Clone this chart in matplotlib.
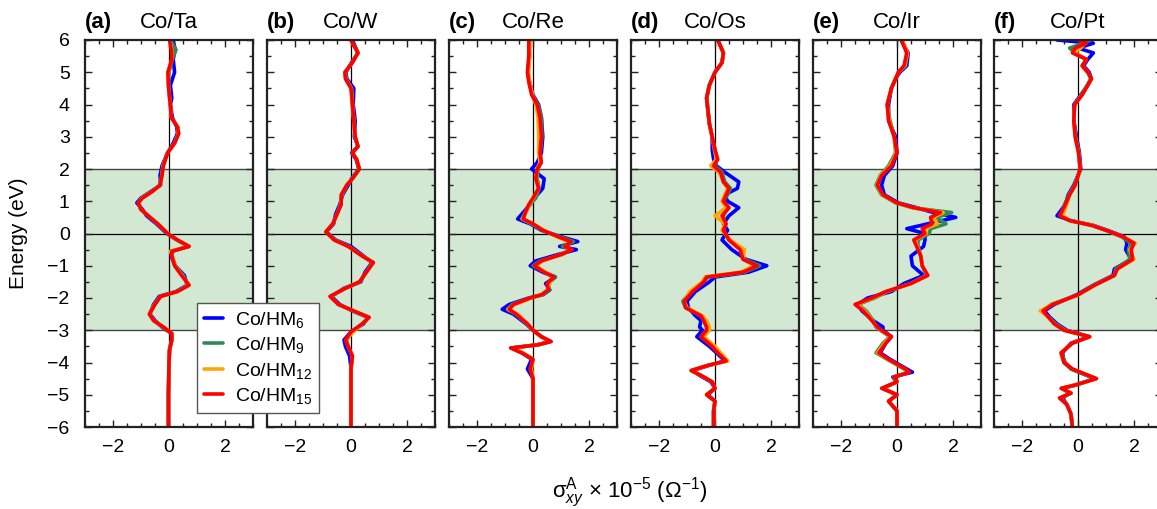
#!/usr/bin/env python3
import matplotlib
matplotlib.use("Agg")
import matplotlib.pyplot as plt
from matplotlib.ticker import MultipleLocator, FixedLocator

# --- Fontes ---
plt.rcParams["font.family"] = ["Liberation Sans", "DejaVu Sans"]
plt.rcParams["mathtext.fontset"] = "custom"
plt.rcParams["mathtext.rm"] = "Liberation Sans"
plt.rcParams["mathtext.it"] = "Liberation Sans:italic"
plt.rcParams["mathtext.bf"] = "Liberation Sans:bold"

ARQUIVO_SAIDA = "out.png"

# --- Dados: energia (eV) e condutividade (x 1e5 Ohm^-1) por sistema ---
E_A = [6.0, 5.7, 5.4, 5.0, 4.6, 4.2, 4.0, 3.6, 3.3, 3.1, 2.8, 2.5, 2.1, 1.8, 1.5,
       1.3, 1.1, 0.95, 0.75, 0.55, 0.3, 0.0, -0.2, -0.4, -0.55, -0.7, -1.0, -1.3,
       -1.6, -1.8, -1.95, -2.2, -2.5, -2.7, -2.9, -3.1, -3.3, -3.6, -4.0, -5.0, -6.0]
TA_6 = [0.15, 0.22, 0.15, 0.20, 0.05, 0.10, 0.05, 0.12, 0.28, 0.30, 0.15, -0.05, -0.25,
        -0.32, -0.30, -0.65, -1.00, -1.15, -0.95, -0.80, -0.45, -0.08, 0.28, 0.70, 0.12,
        0.08, 0.22, 0.55, 0.65, 0.25, -0.35, -0.55, -0.68, -0.50, -0.25, 0.08, 0.10,
        0.02, 0.00, -0.02, -0.02]
TA_9 = [0.05, 0.25, 0.12, 0.00, -0.02, 0.03, 0.05, 0.08, 0.32, 0.33, 0.20, -0.05, -0.22,
        -0.26, -0.32, -0.62, -0.97, -1.08, -1.02, -0.73, -0.40, -0.05, 0.30, 0.70, 0.08,
        0.12, 0.22, 0.50, 0.68, 0.28, -0.30, -0.52, -0.70, -0.55, -0.22, 0.10, 0.10,
        0.02, 0.00, -0.02, -0.02]
TA_12 = [0.03, 0.10, 0.10, -0.03, -0.02, 0.02, 0.05, 0.08, 0.31, 0.34, 0.20, -0.05, -0.21,
         -0.25, -0.31, -0.60, -0.96, -1.09, -1.00, -0.74, -0.40, -0.05, 0.29, 0.70, 0.05,
         0.12, 0.21, 0.47, 0.70, 0.30, -0.30, -0.51, -0.70, -0.55, -0.20, 0.10, 0.10,
         0.02, 0.00, -0.02, -0.02]
TA_15 = [0.02, 0.08, 0.10, -0.04, -0.02, 0.02, 0.05, 0.08, 0.30, 0.35, 0.20, -0.05, -0.20,
         -0.25, -0.32, -0.60, -0.95, -1.10, -1.00, -0.75, -0.40, -0.05, 0.30, 0.72, 0.10,
         0.10, 0.20, 0.45, 0.72, 0.30, -0.30, -0.50, -0.70, -0.55, -0.20, 0.10, 0.10,
         0.02, 0.00, -0.02, -0.02]

E_B = [6.0, 5.6, 5.3, 5.0, 4.8, 4.5, 4.0, 3.5, 3.0, 2.7, 2.5, 2.3, 2.0, 1.7, 1.5, 1.2,
       0.9, 0.6, 0.3, 0.05, -0.2, -0.4, -0.7, -0.9, -1.2, -1.5, -1.7, -1.95, -2.2, -2.4,
       -2.6, -2.8, -3.05, -3.3, -3.5, -3.8, -4.2, -5.0, -6.0]
W_6 = [0.05, 0.25, 0.02, -0.18, -0.15, 0.10, 0.08, 0.15, 0.12, 0.25, 0.02, 0.18, 0.28,
       0.02, -0.10, -0.30, -0.40, -0.55, -0.62, -0.88, -0.55, 0.00, 0.45, 0.75, 0.50,
       0.35, -0.25, -0.70, -0.40, 0.05, 0.60, 0.45, 0.00, -0.25, -0.20, -0.05, 0.00,
       0.00, 0.00]
W_9 = [0.00, 0.24, 0.05, -0.20, -0.18, 0.02, 0.06, 0.10, 0.15, 0.24, 0.05, 0.20, 0.30,
       0.05, -0.15, -0.33, -0.37, -0.50, -0.65, -0.90, -0.58, -0.08, 0.42, 0.78, 0.55,
       0.32, -0.20, -0.73, -0.45, 0.08, 0.62, 0.42, 0.05, -0.15, -0.10, 0.05, 0.00,
       0.00, 0.00]
W_12 = [0.00, 0.25, 0.05, -0.21, -0.19, 0.01, 0.05, 0.10, 0.15, 0.25, 0.05, 0.20, 0.30,
        0.05, -0.15, -0.34, -0.36, -0.50, -0.65, -0.90, -0.60, -0.10, 0.40, 0.79, 0.55,
        0.30, -0.20, -0.74, -0.45, 0.10, 0.64, 0.40, 0.08, -0.18, -0.10, 0.05, 0.00,
        0.00, 0.00]
W_15 = [0.00, 0.25, 0.05, -0.22, -0.20, 0.00, 0.05, 0.10, 0.15, 0.25, 0.05, 0.20, 0.30,
        0.05, -0.15, -0.35, -0.35, -0.50, -0.65, -0.90, -0.60, -0.10, 0.40, 0.80, 0.55,
        0.30, -0.20, -0.75, -0.45, 0.10, 0.65, 0.40, 0.00, -0.20, -0.10, 0.05, 0.00,
        0.00, 0.00]

E_C = [6.0, 5.5, 5.0, 4.7, 4.3, 4.0, 3.6, 3.0, 2.5, 2.2, 2.0, 1.7, 1.4, 1.1, 0.9, 0.7,
       0.45, 0.3, 0.1, -0.1, -0.25, -0.4, -0.5, -0.65, -0.85, -1.0, -1.2, -1.35, -1.55,
       -1.75, -1.9, -2.0, -2.2, -2.35, -2.5, -2.8, -3.0, -3.2, -3.35, -3.45, -3.55,
       -3.7, -3.9, -4.2, -4.5, -5.0, -6.0]
RE_6 = [-0.15, -0.12, -0.18, -0.12, 0.00, 0.20, 0.30, 0.35, 0.30, 0.15, -0.05, 0.40,
        0.35, 0.05, -0.10, -0.30, -0.55, -0.10, 0.30, 1.00, 1.60, 0.95, 1.55, 0.90, 0.10,
        -0.10, 0.35, 0.80, 0.45, 0.60, 0.35, -0.15, -0.85, -1.10, -0.70, -0.25, 0.00,
        0.30, 0.60, 0.15, -0.75, -0.40, -0.05, -0.20, 0.00, 0.00, 0.00]
RE_9 = [-0.15, -0.14, -0.18, -0.14, -0.02, 0.18, 0.30, 0.32, 0.26, 0.28, 0.18, 0.15,
        0.22, 0.10, -0.10, -0.25, -0.40, -0.05, 0.33, 0.95, 1.45, 1.05, 1.35, 1.05, 0.25,
        0.00, 0.42, 0.80, 0.55, 0.58, 0.32, -0.10, -0.75, -0.90, -0.62, -0.22, 0.00,
        0.30, 0.62, 0.18, -0.78, -0.40, 0.00, -0.10, 0.00, 0.00, 0.00]
RE_12 = [-0.10, -0.12, -0.15, -0.12, -0.02, 0.10, 0.18, 0.20, 0.20, 0.25, 0.15, 0.12,
         0.20, 0.02, -0.12, -0.22, -0.38, 0.00, 0.40, 0.85, 1.25, 1.20, 1.30, 1.00, 0.35,
         0.10, 0.45, 0.70, 0.60, 0.50, 0.30, -0.05, -0.65, -0.90, -0.55, -0.20, 0.00,
         0.28, 0.62, 0.20, -0.75, -0.35, 0.00, -0.05, 0.00, 0.00, 0.00]
RE_15 = [-0.15, -0.15, -0.20, -0.15, -0.05, 0.15, 0.25, 0.30, 0.25, 0.30, 0.15, 0.10,
         0.20, 0.00, -0.15, -0.25, -0.35, 0.00, 0.35, 0.90, 1.35, 1.15, 1.40, 1.00, 0.30,
         0.05, 0.40, 0.75, 0.50, 0.55, 0.30, -0.10, -0.70, -0.85, -0.60, -0.20, 0.00,
         0.30, 0.65, 0.20, -0.80, -0.40, 0.00, -0.10, 0.00, 0.00, 0.00]

E_D = [6.0, 5.6, 5.3, 5.0, 4.6, 4.2, 3.8, 3.4, 3.0, 2.6, 2.3, 2.1, 1.9, 1.6, 1.4, 1.2,
       1.0, 0.8, 0.55, 0.3, 0.1, -0.2, -0.5, -0.8, -1.0, -1.2, -1.35, -1.5, -1.8, -2.1,
       -2.3, -2.55, -2.7, -2.9, -3.0, -3.2, -3.5, -3.7, -3.95, -4.1, -4.25, -4.4, -4.6,
       -4.8, -5.0, -5.2, -5.5, -6.0]
OS_6 = [0.10, 0.30, 0.25, 0.00, -0.20, -0.30, -0.25, -0.20, -0.10, -0.10, -0.05, 0.05,
        0.35, 0.85, 0.80, 0.35, 0.45, 0.85, 0.50, 0.30, 0.45, 0.25, 0.60, 1.10, 1.85,
        1.20, 0.00, -0.20, -0.70, -1.00, -0.95, -0.70, -0.50, -0.55, -0.45, -0.65, -0.20,
        0.05, 0.35, -0.25, -0.80, -0.55, -0.15, 0.00, -0.25, 0.00, -0.05, -0.05]
OS_9 = [0.10, 0.30, 0.25, 0.00, -0.20, -0.30, -0.25, -0.20, -0.10, 0.00, 0.05, 0.00,
        0.25, 0.35, 0.55, 0.45, 0.30, 0.45, 0.30, 0.35, 0.30, 0.50, 0.95, 1.05, 1.60,
        1.05, -0.25, -0.40, -0.85, -1.15, -1.05, -0.50, -0.40, -0.30, -0.30, -0.50,
        -0.10, 0.12, 0.45, -0.30, -0.85, -0.50, -0.10, 0.00, -0.30, 0.00, -0.05, -0.05]
OS_12 = [0.10, 0.30, 0.25, 0.00, -0.20, -0.30, -0.25, -0.20, -0.10, -0.02, 0.05, -0.15,
         0.15, 0.30, 0.45, 0.35, 0.25, 0.40, 0.00, 0.35, 0.25, 0.55, 1.05, 1.00, 1.40,
         0.90, -0.35, -0.45, -0.90, -1.10, -1.00, -0.45, -0.30, -0.20, -0.20, -0.40,
         0.00, 0.20, 0.45, -0.30, -0.85, -0.50, -0.10, 0.00, -0.30, 0.00, -0.05, -0.05]
OS_15 = [0.10, 0.30, 0.25, 0.00, -0.20, -0.30, -0.25, -0.20, -0.10, 0.00, 0.10, -0.05,
         0.20, 0.30, 0.50, 0.40, 0.30, 0.50, 0.25, 0.40, 0.30, 0.50, 0.90, 1.00, 1.50,
         1.00, -0.30, -0.40, -0.80, -1.10, -1.05, -0.50, -0.40, -0.30, -0.30, -0.50,
         -0.10, 0.10, 0.40, -0.30, -0.85, -0.50, -0.10, 0.00, -0.30, 0.00, -0.05, -0.05]

E_E = [6.0, 5.6, 5.2, 5.0, 4.8, 4.5, 4.0, 3.5, 3.0, 2.5, 2.1, 1.8, 1.5, 1.2, 0.95, 0.8,
       0.65, 0.5, 0.3, 0.15, 0.0, -0.2, -0.4, -0.7, -1.0, -1.3, -1.55, -1.8, -2.0, -2.2,
       -2.4, -2.7, -2.9, -3.0, -3.2, -3.4, -3.7, -3.9, -4.2, -4.3, -4.45, -4.6, -4.8,
       -5.0, -5.2, -5.5, -6.0]
IR_6 = [0.15, 0.40, 0.35, 0.10, -0.05, -0.20, -0.30, -0.30, -0.05, 0.00, -0.15, -0.45,
        -0.55, -0.45, 0.05, 0.70, 1.30, 2.10, 1.10, 0.35, 1.00, 1.00, 0.95, 0.50, 0.55,
        0.95, 0.25, -0.20, -1.05, -1.40, -1.25, -0.85, -0.50, -0.50, -0.20, -0.40, -0.60,
        -0.25, 0.35, 0.55, -0.15, 0.00, -0.50, 0.00, -0.30, 0.00, 0.00]
IR_9 = [0.20, 0.35, 0.30, 0.05, -0.05, -0.20, -0.35, -0.25, -0.10, -0.05, -0.30, -0.60,
        -0.75, -0.55, -0.05, 0.55, 1.95, 1.40, 1.75, 1.20, 1.15, 0.75, 0.75, 0.85, 0.90,
        1.05, 0.50, -0.35, -0.80, -1.40, -1.10, -0.85, -0.75, -0.60, -0.25, -0.50, -0.75,
        -0.35, 0.25, 0.40, -0.10, 0.00, -0.50, 0.00, -0.30, 0.00, 0.00]
IR_12 = [0.18, 0.38, 0.28, 0.05, -0.05, -0.20, -0.35, -0.28, -0.10, -0.02, -0.25, -0.58,
         -0.72, -0.52, -0.02, 0.58, 1.65, 1.30, 1.45, 1.00, 1.05, 0.65, 0.72, 0.85, 0.90,
         1.08, 0.50, -0.38, -0.85, -1.45, -1.15, -0.88, -0.72, -0.58, -0.22, -0.45, -0.70,
         -0.32, 0.28, 0.42, -0.10, 0.00, -0.52, 0.00, -0.30, 0.00, 0.00]
IR_15 = [0.15, 0.35, 0.25, 0.05, -0.05, -0.20, -0.35, -0.30, -0.10, 0.00, -0.20, -0.55,
         -0.70, -0.50, 0.00, 0.60, 1.55, 1.20, 1.25, 0.90, 1.00, 0.60, 0.70, 0.85, 0.90,
         1.10, 0.50, -0.40, -0.90, -1.50, -1.20, -0.90, -0.70, -0.55, -0.20, -0.40, -0.65,
         -0.30, 0.30, 0.45, -0.10, 0.00, -0.55, 0.00, -0.30, 0.00, 0.00]

E_F = [6.0, 5.9, 5.75, 5.6, 5.4, 5.2, 5.0, 4.8, 4.6, 4.3, 4.0, 3.5, 3.0, 2.5, 2.0, 1.5,
       1.2, 0.9, 0.55, 0.4, 0.25, 0.1, -0.1, -0.3, -0.5, -0.8, -1.1, -1.3, -1.6, -1.9,
       -2.2, -2.4, -2.6, -2.8, -3.0, -3.2, -3.4, -3.7, -4.0, -4.2, -4.5, -4.7, -4.8,
       -4.95, -5.1, -5.3, -5.6, -6.0]
PT_6 = [-0.75, 0.55, 0.00, 0.55, 0.35, 0.20, 0.40, 0.48, 0.35, 0.10, -0.15, -0.15, -0.05,
        0.05, 0.10, -0.15, -0.35, -0.45, -0.75, -0.25, 0.55, 1.05, 1.65, 1.75, 1.70, 1.90,
        1.30, 1.25, 0.55, -0.05, -0.85, -1.20, -1.00, -0.75, -0.40, 0.40, -0.25, -0.55,
        -0.50, -0.25, 0.60, -0.10, -0.55, -0.30, -0.55, -0.40, -0.25, -0.20]
PT_9 = [0.45, 0.20, -0.30, -0.10, 0.30, 0.15, 0.35, 0.45, 0.33, 0.12, -0.12, -0.15, -0.08,
        0.03, 0.08, -0.12, -0.32, -0.48, -0.62, -0.28, 0.50, 1.00, 1.55, 1.90, 1.80, 1.85,
        1.35, 1.30, 0.58, 0.00, -0.95, -1.30, -1.05, -0.80, -0.45, 0.40, -0.20, -0.60,
        -0.45, -0.25, 0.62, -0.10, -0.58, -0.25, -0.62, -0.40, -0.25, -0.20]
PT_12 = [0.10, 0.25, 0.10, -0.15, 0.30, 0.15, 0.35, 0.48, 0.35, 0.15, -0.12, -0.15, -0.10,
         0.02, 0.08, -0.10, -0.30, -0.40, -0.55, -0.28, 0.52, 1.00, 1.60, 2.05, 1.85, 2.00,
         1.40, 1.30, 0.60, 0.02, -0.92, -1.35, -1.05, -0.85, -0.50, 0.42, -0.20, -0.62,
         -0.50, -0.20, 0.66, -0.10, -0.60, -0.25, -0.66, -0.40, -0.25, -0.20]
PT_15 = [0.00, 0.30, -0.10, -0.20, 0.30, 0.15, 0.35, 0.48, 0.35, 0.15, -0.12, -0.15, -0.10,
         0.02, 0.08, -0.10, -0.30, -0.45, -0.65, -0.30, 0.50, 1.00, 1.60, 2.00, 1.90, 1.95,
         1.40, 1.30, 0.60, 0.00, -0.90, -1.25, -1.05, -0.85, -0.50, 0.42, -0.20, -0.60,
         -0.50, -0.20, 0.66, -0.10, -0.60, -0.25, -0.66, -0.40, -0.25, -0.20]

ROTULOS = ["(a)", "(b)", "(c)", "(d)", "(e)", "(f)"]
SISTEMAS = ["Co/Ta", "Co/W", "Co/Re", "Co/Os", "Co/Ir", "Co/Pt"]
LEGENDAS = ["Co/HM$_{6}$", "Co/HM$_{9}$", "Co/HM$_{12}$", "Co/HM$_{15}$"]
CORES = ["#0000ff", "#2e8b57", "#ffa500", "#ff0000"]
FAIXA = (-3, 2)
COR_FAIXA = "#d3e8d3"

PAINEIS = [
    (E_A, [TA_6, TA_9, TA_12, TA_15]),
    (E_B, [W_6, W_9, W_12, W_15]),
    (E_C, [RE_6, RE_9, RE_12, RE_15]),
    (E_D, [OS_6, OS_9, OS_12, OS_15]),
    (E_E, [IR_6, IR_9, IR_12, IR_15]),
    (E_F, [PT_6, PT_9, PT_12, PT_15]),
]


def desenhar_painel(ax, rotulo, sistema, energia, series, mostrar_y):
    """Desenha um painel sigma x energia"""
    ax.axhspan(*FAIXA, color=COR_FAIXA, lw=0, zorder=0)
    for y in FAIXA:
        ax.axhline(y, color="#444444", lw=1.0, zorder=1)
    ax.axhline(0, color="black", lw=0.9, zorder=1)
    ax.axvline(0, color="black", lw=0.9, zorder=1)

    linhas = []
    for valores, cor in zip(series, CORES):
        (ln,) = ax.plot(valores, energia, color=cor, lw=2.6,
                        solid_joinstyle="round", solid_capstyle="round", zorder=2)
        linhas.append(ln)

    ax.set_xlim(-3, 3)
    ax.set_ylim(-6, 6)
    ax.xaxis.set_major_locator(FixedLocator([-2, 0, 2]))
    ax.xaxis.set_minor_locator(MultipleLocator(0.5))
    ax.yaxis.set_major_locator(MultipleLocator(1))
    ax.yaxis.set_minor_locator(MultipleLocator(0.5))
    ax.tick_params(which="both", direction="in", top=True, right=True,
                   labelsize=14, width=1.0, color="#222222")
    ax.tick_params(which="major", length=5)
    ax.tick_params(which="minor", length=3)
    ax.tick_params(axis="x", which="major", pad=9)
    ax.tick_params(axis="y", which="major", pad=11)
    if not mostrar_y:
        ax.tick_params(labelleft=False)
    for sp in ax.spines.values():
        sp.set_linewidth(1.6)
        sp.set_color("#222222")

    ax.text(0.0, 1.03, rotulo, transform=ax.transAxes, fontsize=16,
            fontweight="bold", ha="left", va="baseline")
    ax.text(0.5, 1.03, sistema, transform=ax.transAxes, fontsize=16,
            ha="center", va="baseline")
    return linhas


if __name__ == "__main__":
    fig = plt.figure(figsize=(11.57, 5.09), dpi=100)

    largura_fig, altura_fig = 1157.0, 509.0
    esquerdas = [85, 267, 449, 631, 813, 994]
    largura, topo, base = 168, 40, 427

    linhas = None
    for i, (energia, series) in enumerate(PAINEIS):
        ax = fig.add_axes([esquerdas[i] / largura_fig,
                           (altura_fig - base) / altura_fig,
                           largura / largura_fig,
                           (base - topo) / altura_fig])
        ln = desenhar_painel(ax, ROTULOS[i], SISTEMAS[i], energia, series, i == 0)
        if i == 0:
            linhas = ln
            ax.set_ylabel("Energy (eV)", fontsize=15, labelpad=14)

    fig.legend(linhas, LEGENDAS, loc="upper left",
               bbox_to_anchor=(197 / largura_fig, 1 - 303 / altura_fig),
               fontsize=14, frameon=True, fancybox=False, edgecolor="#555555",
               framealpha=1.0, handlelength=1.0, handletextpad=0.6,
               labelspacing=0.28, borderpad=0.35, borderaxespad=0.0)

    fig.text(630 / largura_fig, 1 - 498 / altura_fig,
             "σ$^{\\mathrm{A}}_{xy}$ × 10$^{-5}$ (Ω$^{-1}$)",
             fontsize=16, ha="center", va="baseline")

    fig.savefig(ARQUIVO_SAIDA, dpi=100)
    plt.close(fig)
